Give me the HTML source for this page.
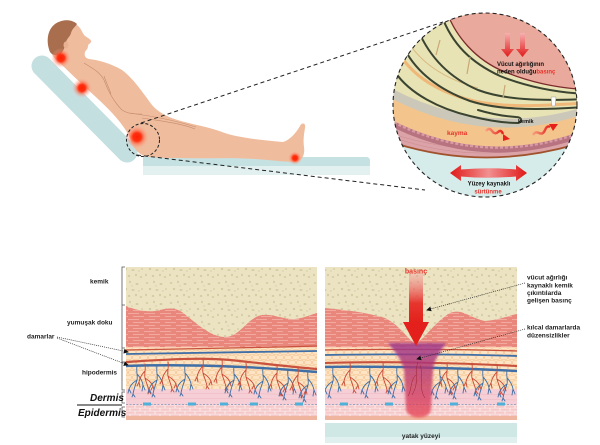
<!DOCTYPE html>
<html><head><meta charset="utf-8"><style>
html,body{margin:0;padding:0;background:#fff;}
svg{display:block;}
text{font-family:"Liberation Sans",Arial,sans-serif;}
</style></head><body>
<svg width="600" height="445" viewBox="0 0 600 445" xmlns="http://www.w3.org/2000/svg">
<defs>
 <radialGradient id="glow">
  <stop offset="0" stop-color="#ff2000"/>
  <stop offset="0.35" stop-color="#ff3010"/>
  <stop offset="0.62" stop-color="#ff6a4a" stop-opacity="0.5"/>
  <stop offset="1" stop-color="#ffb0a0" stop-opacity="0"/>
 </radialGradient>
 <pattern id="bone" width="24" height="20" patternUnits="userSpaceOnUse">
  <rect width="24" height="20" fill="#ebe3c1"/>
  <g fill="#d3c9a3">
   <ellipse cx="3" cy="3" rx="1.3" ry="0.9"/><ellipse cx="10" cy="2" rx="0.9" ry="1.2"/>
   <ellipse cx="17" cy="4" rx="1.4" ry="1"/><ellipse cx="22" cy="9" rx="1" ry="0.8"/>
   <ellipse cx="6" cy="9" rx="1.2" ry="1.1"/><ellipse cx="13" cy="10" rx="1.5" ry="0.9"/>
   <ellipse cx="2" cy="15" rx="0.9" ry="1.2"/><ellipse cx="9" cy="16" rx="1.3" ry="1"/>
   <ellipse cx="16" cy="15" rx="1" ry="1.3"/><ellipse cx="21" cy="17" rx="1.3" ry="0.9"/>
   <ellipse cx="19" cy="11" rx="0.7" ry="0.7"/><ellipse cx="12" cy="6" rx="0.6" ry="0.7"/>
  </g>
 </pattern>
 <pattern id="mus" width="16" height="6" patternUnits="userSpaceOnUse">
  <rect width="16" height="6" fill="#e9877c"/>
  <rect x="0" y="1" width="11" height="0.9" fill="#f4aea4"/>
  <rect x="5" y="4" width="11" height="0.9" fill="#f4aea4"/>
 </pattern>
 <pattern id="fat" width="16" height="10" patternUnits="userSpaceOnUse">
  <rect width="16" height="10" fill="#fde4c4"/>
  <g fill="none" stroke="#f3c08b" stroke-width="0.6">
   <rect x="0.5" y="0.5" width="7" height="4" rx="1.8"/>
   <rect x="8.5" y="0.5" width="7" height="4" rx="1.8"/>
   <rect x="4.5" y="5.5" width="7" height="4" rx="1.8"/>
   <rect x="-3.5" y="5.5" width="7" height="4" rx="1.8"/>
   <rect x="12.5" y="5.5" width="7" height="4" rx="1.8"/>
  </g>
 </pattern>
 <pattern id="epi" width="10" height="6" patternUnits="userSpaceOnUse">
  <rect width="10" height="6" fill="#fbe6e6"/>
  <rect x="0.5" y="0.5" width="9" height="2.3" rx="0.8" fill="#f5c9c9"/>
  <rect x="-4.5" y="3.5" width="9" height="2.3" rx="0.8" fill="#f5c9c9"/>
  <rect x="5.5" y="3.5" width="9" height="2.3" rx="0.8" fill="#f5c9c9"/>
 </pattern>
 <linearGradient id="dmg" x1="0" y1="0" x2="0" y2="1">
  <stop offset="0" stop-color="#9c3a8c" stop-opacity="0.85"/>
  <stop offset="0.35" stop-color="#b23272" stop-opacity="0.8"/>
  <stop offset="1" stop-color="#e8404c" stop-opacity="0.75"/>
 </linearGradient>
 <linearGradient id="arr" x1="0" y1="0" x2="0" y2="1">
  <stop offset="0" stop-color="#f29a9a" stop-opacity="0.35"/>
  <stop offset="0.6" stop-color="#e6362e"/>
  <stop offset="1" stop-color="#e3201b"/>
 </linearGradient>
 <linearGradient id="darr" x1="0" y1="0" x2="0" y2="1">
  <stop offset="0" stop-color="#f7b0b0"/>
  <stop offset="1" stop-color="#e01a1a"/>
 </linearGradient>
 <linearGradient id="harr" x1="0" y1="0" x2="1" y2="0">
  <stop offset="0" stop-color="#e01818"/>
  <stop offset="0.5" stop-color="#f29090"/>
  <stop offset="1" stop-color="#e01818"/>
 </linearGradient>
 <linearGradient id="warr" x1="0" y1="0" x2="1" y2="0">
  <stop offset="0" stop-color="#f6a080"/>
  <stop offset="1" stop-color="#e8201a"/>
 </linearGradient>
 <filter id="blur" x="-20%" y="-20%" width="140%" height="140%"><feGaussianBlur stdDeviation="1.3"/></filter>
 <marker id="ah" viewBox="0 0 6 6" refX="5" refY="3" markerUnits="userSpaceOnUse" markerWidth="5" markerHeight="5" orient="auto"><path d="M0,0 L6,3 L0,6 Z" fill="#111"/></marker>
 <g id="tb" fill="none" stroke="#3e6fa7" stroke-width="0.9" stroke-linecap="round">
  <path d="M0,0 C-1,6 1,10 0,14 C-1,18 -3,22 -4,28 M0,8 C3,11 5,14 6,19 L8,24 M6,19 L5,25 M0,14 C-3,16 -6,18 -8,23 L-9,27 M-4,28 L-5,31 M-4,28 L-2,31 M-8,23 L-6,27"/>
 </g>
 <g id="tr" fill="none" stroke="#c94b38" stroke-width="0.9" stroke-linecap="round">
  <path d="M0,0 C1,6 -1,10 0,14 C1,18 3,22 4,27 M0,7 C-3,10 -5,13 -6,18 L-8,22 M-6,18 L-5,23 M0,14 C3,16 6,18 8,22 L9,26 M4,27 L3,30 M4,27 L6,30 M8,22 L6,26"/>
 </g>
 <clipPath id="cc"><circle cx="485" cy="105" r="92"/></clipPath>
 <clipPath id="pl"><rect x="126" y="267" width="191" height="153"/></clipPath>
 <clipPath id="pr"><rect x="325" y="267" width="192" height="153"/></clipPath>
</defs>

<rect width="600" height="445" fill="#fff"/>

<!-- ===== TOP LEFT: patient ===== -->
<line x1="42" y1="66" x2="127" y2="152" stroke="#c4dfe0" stroke-width="21" stroke-linecap="round"/>
<path d="M143,157 L366,157 Q370,157 370,161 L370,175 L143,175 Z" fill="#e2f0f0"/>
<path d="M143,157 L366,157 Q370,157 370,161 L370,166 L143,166 Z" fill="#c5e1e2"/>

<path d="M52,54 C49,45 48,32 56,25 C63,20 75,21 80,28 C82,31 83,34 85,36 C88,38 92,40 91,42 C90,44 88,44 88,46 C88,49 86,50 85,52 C84,55 85,58 89,59 C98,60 110,63 122,70 C133,78 143,93 152,105 C158,112 168,118 185,122 C200,126 212,128 222,132 C238,138 262,140 283,142 C290,140 296,133 300,126 C302,122 306,123 305,128 C304,134 303,140 304,147 C305,153 303,160 297,162 C285,162 270,160 255,159 C230,157 205,159 180,158 C165,158 152,158 144,156 C136,152 132,146 130,138 C124,125 112,112 98,99 C85,87 70,73 60,63 C56,60 53,57 52,54 Z" fill="#efbc9d"/>
<path d="M50,52 C46,42 47,30 55,24 C62,19 72,19 77,24 C75,27 72,29 71,33 C70,37 67,38 66,42 C65,47 63,52 60,55 C56,56 52,55 50,52 Z" fill="#a86e4e"/>
<ellipse cx="66" cy="45" rx="2.5" ry="3.5" fill="#e9b293"/>
<g fill="none" stroke="#c48b6e" stroke-width="0.6">
 <path d="M84,63 C92,68 100,72 104,80 C107,88 112,100 122,110 C128,114 135,114 142,114"/>
 <path d="M104,76 C106,82 109,88 111,94"/>
 <path d="M130,113 C150,116 170,119 196,127"/>
 <path d="M142,118 C160,121 180,123 195,129"/>
</g>
<circle cx="61" cy="58" r="10" fill="url(#glow)"/>
<circle cx="82" cy="88" r="10" fill="url(#glow)"/>
<circle cx="137" cy="137" r="12" fill="url(#glow)"/>
<circle cx="295" cy="158" r="7" fill="url(#glow)"/>

<circle cx="143" cy="140" r="16.5" fill="none" stroke="#222" stroke-width="1" stroke-dasharray="3,2"/>
<line x1="141" y1="123" x2="443" y2="22" stroke="#222" stroke-width="1" stroke-dasharray="4,3"/>
<line x1="137" y1="155" x2="425" y2="190" stroke="#222" stroke-width="1" stroke-dasharray="4,3"/>

<!-- ===== TOP RIGHT: magnified circle ===== -->
<g clip-path="url(#cc)">
 <rect x="390" y="10" width="200" height="200" fill="#d6ecea"/>
 <path d="M380,0 L590,0 L590,140 Q485,175 385,140 Z" fill="#dba3a7"/>
 <g stroke="#c98a90" stroke-width="0.5" fill="none">
  <path d="M390,133 Q485,165 585,130"/><path d="M392,137 Q485,170 585,135"/>
 </g>
 <path d="M385,140 Q485,175 590,140" fill="none" stroke="#a0522d" stroke-width="1.8"/>
 <path d="M380,0 L590,0 L590,128 Q485,170 385,117 Z" fill="#f3c48c"/>
 <path d="M385,120 Q485,173 590,131" fill="none" stroke="#b77480" stroke-width="6"/>
 <path d="M385,118 Q485,171 590,129" fill="none" stroke="#d99ba6" stroke-width="2.4" stroke-dasharray="3,2"/>
 <path d="M380,0 L590,0 L590,112 Q485,150 385,95 Z" fill="#cbc8ba"/>
 <path d="M380,0 L590,0 L590,105 Q485,140 385,85 Z" fill="#e8e3b4"/>
 <path d="M400,55 C415,78 440,92 470,100 C500,108 540,106 585,103" fill="none" stroke="#efb878" stroke-width="3"/>
 <path d="M410,45 C425,66 448,80 478,88" fill="none" stroke="#d8b880" stroke-width="1"/>
 <path d="M447,10 C455,35 475,60 505,72 C530,82 555,88 590,90 L590,0 L447,0 Z" fill="#e9a99c"/>
 <path d="M447,12 C455,35 475,60 505,72 C530,82 555,88 590,90" fill="none" stroke="#7b2b2b" stroke-width="1.3"/>
 <g fill="none" stroke="#3a4431" stroke-width="2" stroke-linecap="round">
  <path d="M441,14 C452,45 472,63 500,76 C525,86 552,92 585,94"/>
  <path d="M418,30 C430,58 450,78 478,90 C505,100 540,101 585,99"/>
  <path d="M405,50 C418,74 440,90 470,101 C495,109 530,111 585,107"/>
  <path d="M395,72 C410,94 440,109 470,116 C490,121 505,123 518,123 C523,122 522,117 516,117 C500,116 488,113 478,110"/>
 </g>
 <g stroke="#c8a877" stroke-width="1.2" fill="none">
  <path d="M470,57 L467,74"/><path d="M505,85 L503,98"/><path d="M440,40 L436,55"/>
 </g>
 <path d="M551,97 L556,97 L555,106 L552,106 Z" fill="#fff" stroke="#888" stroke-width="0.4"/>
 <!-- red down arrows -->
 <path d="M505,33 L510,33 L510,49 L514,49 L507.5,57 L501,49 L505,49 Z" fill="url(#darr)"/>
 <path d="M520,33 L525,33 L525,49 L529,49 L522.5,57 L516,49 L520,49 Z" fill="url(#darr)"/>
 <!-- wavy arrows -->
 <path d="M486,131 q3,-4 6,0 t6,1 t5,2" fill="none" stroke="url(#warr)" stroke-width="2.4"/>
 <path d="M503,134 L510,139 L503,141 Z" fill="#e8201a"/>
 <path d="M533,135 q2,-4 6,-2 t6,-3 t5,-3" fill="none" stroke="url(#warr)" stroke-width="2.4"/>
 <path d="M549,124 L558,124 L553,131 Z" fill="#e8201a"/>
 <!-- double arrow -->
 <path d="M450,173 L461,165 L461,169.5 Q488,167 516,169.5 L516,165 L527,173 L516,181 L516,176.5 Q488,179 461,176.5 L461,181 Z" fill="url(#harr)"/>
</g>
<circle cx="485" cy="105" r="92" fill="none" stroke="#222" stroke-width="1.1" stroke-dasharray="4,3"/>
<text x="497" y="66" font-size="6" font-weight="bold" fill="#111">Vücut ağırlığının</text>
<text x="497" y="73.5" font-size="6" font-weight="bold" fill="#111">neden olduğu<tspan fill="#e8322a">basınç</tspan></text>
<text x="518" y="123" font-size="5.5" font-weight="bold" fill="#111">kemik</text>
<text x="447" y="135" font-size="6.5" font-weight="bold" fill="#e8322a">kayma</text>
<text x="489" y="185.5" font-size="6" font-weight="bold" fill="#111" text-anchor="middle">Yüzey kaynaklı</text>
<text x="488" y="193.5" font-size="6" font-weight="bold" fill="#e8322a" text-anchor="middle">sürtünme</text>

<!-- ===== BOTTOM LEFT panel ===== -->
<g clip-path="url(#pl)">
 <rect x="126" y="267" width="191" height="153" fill="url(#fat)"/>
 <rect x="126" y="267" width="191" height="80" fill="url(#mus)"/>
 <path d="M126,267 L317,267 L317,313 C312,314 305,318 295,319 C285,320 275,314 262,315 C248,317 240,337 225,337 C210,337 195,322 182,312 C172,306 165,309 155,311 C145,312 135,310 126,306 Z" fill="url(#bone)"/>
 <rect x="126" y="347" width="191" height="1" fill="#f9d0b0"/>
 <rect x="126" y="389" width="191" height="15" fill="#f6cfd6"/>
 <g stroke="#efb5c0" stroke-width="0.5" fill="none"><path d="M126,394 Q200,392 317,395"/><path d="M126,399 Q220,397 317,400"/></g>
 <rect x="126" y="404" width="191" height="12" fill="url(#epi)"/>
 <rect x="126" y="416" width="191" height="4" fill="#f0b59e"/>
 <line x1="126" y1="404.5" x2="317" y2="404.5" stroke="#7d94c4" stroke-width="0.8" stroke-dasharray="2,1.5"/>
 <g fill="#4fb0d8"><rect x="143" y="402.5" width="8" height="3"/><rect x="188" y="402.5" width="8" height="3"/><rect x="220" y="402.5" width="8" height="3"/><rect x="250" y="402.5" width="8" height="3"/><rect x="295" y="402.5" width="8" height="3"/></g>
 <g fill="none" stroke-linecap="round">
  <path d="M126,350 C180,349 250,348 317,346" stroke="#c9523e" stroke-width="1.3"/>
  <path d="M126,354 C180,353 250,352 317,351" stroke="#3f6fa6" stroke-width="1.8"/>
  <path d="M126,362 C160,360 200,357 230,360 C260,363 290,367 317,369" stroke="#c9523e" stroke-width="2.2"/>
  <path d="M126,366 C180,364 250,366 317,372" stroke="#3f6fa6" stroke-width="2.4"/>
 </g>
 <use href="#tb" x="137" y="366"/><use href="#tr" x="145" y="364"/>
 <use href="#tb" x="157" y="366"/><use href="#tr" x="168" y="362"/>
 <use href="#tb" x="185" y="365"/><use href="#tr" x="203" y="359"/>
 <use href="#tr" x="222" y="360"/><use href="#tb" x="234" y="366"/>
 <use href="#tr" x="246" y="363"/><use href="#tb" x="263" y="367"/>
 <use href="#tr" x="277" y="366"/><use href="#tb" x="288" y="369"/>
 <use href="#tr" x="298" y="368"/><use href="#tb" x="308" y="371"/>
</g>
<!-- left brackets -->
<g stroke="#555" stroke-width="0.8" fill="none">
 <path d="M125,267 L122,267 L122,390 L125,390"/>
 <path d="M122,305 L125,305 M122,348 L125,348 M122,362 L125,362"/>
 <path d="M125,392 L122,392 L122,403 L125,403"/>
 <path d="M125,407 L122,407 L122,417 L125,417"/>
</g>
<line x1="77" y1="405" x2="122" y2="405" stroke="#111" stroke-width="0.9"/>
<text x="90" y="283.5" font-size="6.5" font-weight="bold" fill="#222">kemik</text>
<text x="67" y="324.5" font-size="6.5" font-weight="bold" fill="#222">yumuşak doku</text>
<text x="27" y="338.5" font-size="6.5" font-weight="bold" fill="#222">damarlar</text>
<text x="82" y="374.5" font-size="6.5" font-weight="bold" fill="#222">hipodermis</text>
<text x="90" y="401" font-size="10" font-weight="bold" font-style="italic" fill="#111">Dermis</text>
<text x="78" y="416" font-size="10" font-weight="bold" font-style="italic" fill="#111">Epidermis</text>
<g stroke="#222" stroke-width="0.7" stroke-dasharray="1,1" fill="none">
 <line x1="57" y1="337" x2="128" y2="352" marker-end="url(#ah)"/>
 <line x1="57" y1="338" x2="128" y2="365" marker-end="url(#ah)"/>
</g>

<!-- ===== BOTTOM RIGHT panel ===== -->
<g clip-path="url(#pr)">
 <rect x="325" y="267" width="192" height="153" fill="url(#fat)"/>
 <rect x="325" y="267" width="192" height="80" fill="url(#mus)"/>
 <path d="M325,267 L517,267 L517,314 C510,315 500,320 485,321 C470,318 462,308 450,313 C435,322 425,338 416,344 C408,340 400,325 385,318 C365,312 345,310 325,308 Z" fill="url(#bone)"/>
 <rect x="325" y="347" width="192" height="1" fill="#f9d0b0"/>
 <rect x="325" y="389" width="192" height="15" fill="#f6cfd6"/>
 <g stroke="#efb5c0" stroke-width="0.5" fill="none"><path d="M325,394 Q420,392 517,395"/><path d="M325,399 Q420,397 517,400"/></g>
 <rect x="325" y="404" width="192" height="12" fill="url(#epi)"/>
 <rect x="325" y="416" width="192" height="4" fill="#f0b59e"/>
 <line x1="325" y1="404.5" x2="517" y2="404.5" stroke="#7d94c4" stroke-width="0.8" stroke-dasharray="2,1.5"/>
 <g fill="#4fb0d8"><rect x="340" y="402.5" width="8" height="3"/><rect x="385" y="402.5" width="8" height="3"/><rect x="450" y="402.5" width="8" height="3"/><rect x="497" y="402.5" width="8" height="3"/></g>
 <g fill="none" stroke-linecap="round">
  <path d="M325,350 C380,349 460,349 517,351" stroke="#c9523e" stroke-width="1.3"/>
  <path d="M325,355 C380,354 460,354 517,356" stroke="#3f6fa6" stroke-width="1.8"/>
  <path d="M325,363 C380,361 460,363 517,366" stroke="#c9523e" stroke-width="2.1"/>
  <path d="M325,367 C380,366 460,368 517,371" stroke="#3f6fa6" stroke-width="2.4"/>
 </g>
 <use href="#tb" x="333" y="367"/><use href="#tr" x="350" y="363"/>
 <use href="#tb" x="370" y="367"/><use href="#tr" x="383" y="363"/>
 <use href="#tb" x="397" y="367"/><use href="#tb" x="440" y="368"/>
 <use href="#tr" x="447" y="364"/><use href="#tb" x="458" y="368"/>
 <use href="#tr" x="472" y="364"/><use href="#tb" x="483" y="369"/>
 <use href="#tr" x="497" y="365"/><use href="#tb" x="507" y="370"/>
 <path d="M388,343 L446,343 C440,352 434,360 433,370 L431,410 C429,420 409,420 406,410 L404,370 C402,360 395,352 388,343 Z" fill="url(#dmg)" filter="url(#blur)"/>
 <g fill="none" stroke="#a02030" stroke-width="0.5">
  <path d="M418,362 C414,372 420,382 412,395"/><path d="M420,365 C424,375 418,388 425,398"/><path d="M416,375 C410,380 412,390 408,396"/>
 </g>
 <rect x="409" y="273" width="14" height="50" fill="url(#arr)"/>
 <path d="M403,322 L429,322 L416,346 Z" fill="#e3201b"/>
</g>
<text x="416" y="273.5" font-size="7" font-weight="bold" fill="#e8322a" text-anchor="middle">basınç</text>
<rect x="325" y="423" width="192" height="20" fill="#cfe8e6"/>
<rect x="325" y="437" width="192" height="6" fill="#e0f0ef"/>
<text x="421" y="438" font-size="6.5" font-weight="bold" fill="#222" text-anchor="middle">yatak yüzeyi</text>

<g font-size="6.5" font-weight="bold" fill="#222">
 <text x="527" y="279.5">vücut ağırlığı</text>
 <text x="527" y="287.3">kaynaklı kemik</text>
 <text x="527" y="295">çıkıntılarda</text>
 <text x="527" y="302.7">gelişen basınç</text>
 <text x="527" y="329.5">kılcal damarlarda</text>
 <text x="527" y="337.3">düzensizlikler</text>
</g>
<g stroke="#222" stroke-width="0.7" stroke-dasharray="1,1" fill="none">
 <line x1="525" y1="283" x2="427" y2="310" marker-end="url(#ah)"/>
 <line x1="525" y1="329" x2="417" y2="359" marker-end="url(#ah)"/>
</g>
</svg>
</body></html>
